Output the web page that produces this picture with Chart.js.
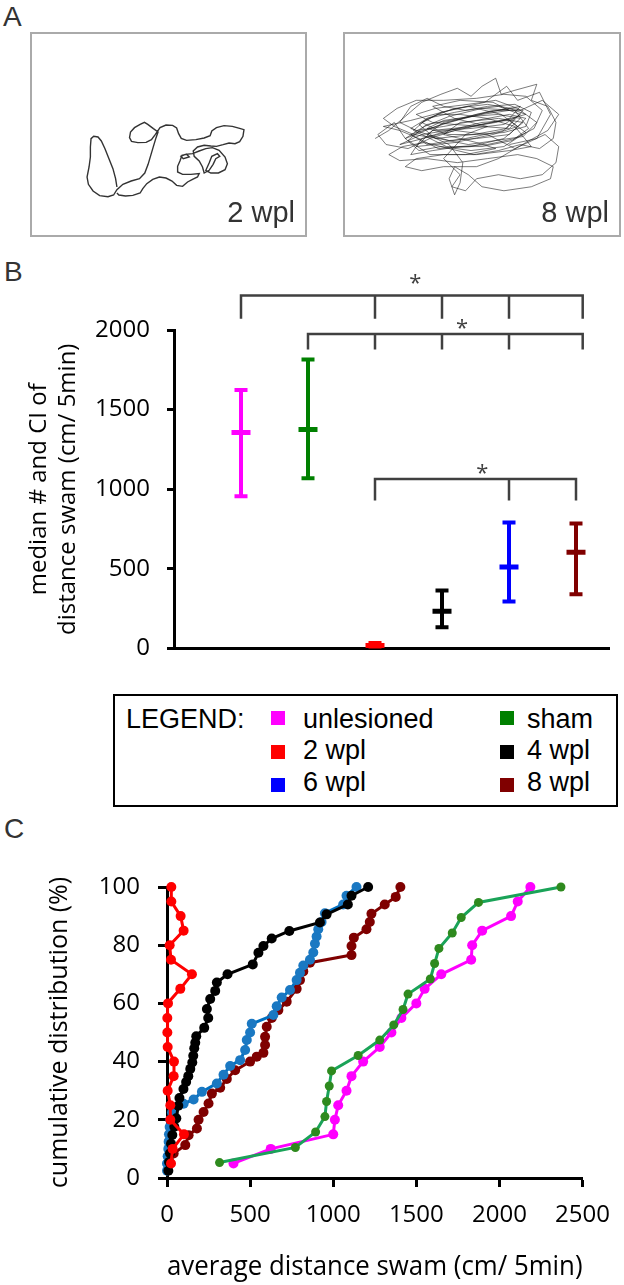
<!DOCTYPE html>
<html>
<head>
<meta charset="utf-8">
<title>distance swam</title>
<script src="https://cdn.jsdelivr.net/npm/chart.js@4.4.1/dist/chart.umd.min.js"></script>
<style>
  body { margin: 0; width: 624px; height: 1285px; position: relative; background: #fff; overflow: hidden;
         font-family: "Liberation Sans", Arial, sans-serif; }
  .panel { position: absolute; font-size: 28px; line-height: 1; color: #333; }
  .box { position: absolute; top: 32px; width: 277px; height: 205px; border: 2px solid #aaa; box-sizing: border-box; }
  .box canvas { position: absolute; left: 0; top: 0; }
  .wpl { position: absolute; right: 10px; bottom: 8px; font-size: 29px; line-height: 1; color: #333; }
  #chartB, #chartC { position: absolute; left: 0; }
  #legend { position: absolute; left: 113px; top: 694px; width: 505px; height: 113px; border: 2px solid #000;
            box-sizing: border-box; font-size: 27px; line-height: 1; color: #000; }
  #legend span { position: absolute; white-space: nowrap; }
  #legend i { position: absolute; width: 14px; height: 14px; }
</style>
</head>
<body>
<div class="panel" style="left:3px;top:3px">A</div>
<div class="box" style="left:30px"><canvas id="track2" width="273" height="201"></canvas><div class="wpl">2 wpl</div></div>
<div class="box" style="left:343px;width:278px"><canvas id="track8" width="274" height="201"></canvas><div class="wpl">8 wpl</div></div>
<div class="panel" style="left:4px;top:258px">B</div>
<canvas id="chartB" width="624" height="440" style="top:240px"></canvas>
<div id="legend"><span style="left:11px;top:10px">LEGEND:</span></div>
<div class="panel" style="left:4px;top:815px">C</div>
<canvas id="chartC" width="624" height="435" style="top:850px"></canvas>
<script>
// ---- panel A: swim tracks ----
// 2 wpl track, picture units inside the box
var track2 = [
  [262,470],[258,445],[250,415],[238,385],[226,355],[215,332],[205,320],[192,318],[184,325],[182,350],[182,380],
  [178,410],[172,440],[176,462],[190,482],[210,496],[235,499],[252,494],[262,478],[280,462],[305,452],[330,445],
  [346,428],[356,402],[364,375],[372,348],[380,322],[386,305],[372,295],[355,282],[345,276],[332,282],[315,292],
  [303,305],[300,322],[306,333],[325,337],[350,336],[366,328],[378,312],[392,292],[410,284],[430,285],[442,293],
  [448,310],[456,324],[472,330],[500,328],[525,323],[543,316],[548,302],[562,292],[585,286],[610,288],[632,294],
  [645,298],[642,318],[632,334],[618,340],[600,338],[582,343],[562,348],[545,347],[525,345],[505,350],[492,362],
  [495,378],[510,392],[520,410],[525,428],[540,420],[552,402],[560,385],[572,378],[565,370],[548,378],[540,398],
  [530,420],[545,428],[568,428],[588,418],[595,400],[588,380],[570,360],[550,352],[530,355],[510,362],[490,370],
  [468,372],[455,378],[462,385],[480,380],[472,372],[458,375],[452,392],[445,408],[445,425],[460,432],[485,432],
  [510,430],[505,440],[490,447],[475,455],[460,468],[442,465],[428,452],[410,443],[390,440],[370,447],[352,460],
  [340,475],[332,488],[310,495],[288,497],[268,494],[262,488]
];
// 8 wpl track, percent of the box
var track8 = [
  [11,52],[16,48],[22,41],[28,34],[35,30],[41,27],[46,31],[50,26],[55,22],[57,30],[62,28],[70,25],[68,33],[74,36],
  [77,44],[76,52],[71,57],[64,55],[56,58],[47,60],[38,57],[29,54],[21,56],[16,60],[20,63],[30,62],[41,64],[52,62],
  [63,60],[70,62],[76,66],[75,72],[68,76],[58,78],[50,76],[45,70],[40,66],[38,72],[40,80],[42,74],[43,64],[38,55],
  [30,50],[24,47],[30,42],[40,39],[52,36],[62,35],[68,39],[66,46],[58,49],[48,50],[38,50],[30,47],[36,43],[46,41],
  [56,40],[64,42],[60,47],[50,46],[40,45],[32,44],[26,40],[33,37],[45,35],[55,33],[63,37],[70,44],[65,51],[55,53],
  [45,55],[34,52],[25,50],[18,46],[14,42],[19,37],[26,33],[36,33],[48,32],[58,30],[66,31],[72,38],[69,47],[62,52],
  [52,55],[42,56],[32,58],[24,60],[28,52],[38,48],[50,44],[60,43],[66,49],[58,56],[46,58],[35,56],[27,58],[22,52],
  [30,45],[42,42],[54,38],[64,38],[72,33],[78,40],[74,48],[66,54],[56,62],[48,66],[36,66],[28,68],[22,66],[26,62],
  [36,60],[48,60],[60,58],[68,56],[62,46],[52,42],[42,40],[34,40],[28,44],[34,48],[46,47],[58,45],[64,40],[56,36],
  [44,38],[36,36],[30,32],[24,36],[20,44],[26,48],[36,46],[48,43],[60,40],[66,42],[60,50],[48,52],[38,53],[30,50],
  [36,44],[50,40],[60,38],[54,34],[42,33],[32,36],[40,42],[52,46],[44,50],[36,62],[42,70],[39,76],[44,78],[48,72],
  [56,70],[64,72],[72,70],[77,64],[78,56],[73,50],[62,57],[52,50],[40,48],[31,52],[23,57],[15,55],[12,50],[18,44],
  [22,52],[35,45],[48,40],[60,37],[66,40],[55,44],[42,47],[28,50],[20,55],[34,50],[50,45],[62,42],[58,48],[44,52],
  [30,55],[24,50],[38,44],[52,39],[64,36],[60,42],[46,46],[32,48],[26,56],[40,54],[54,50],[63,46],[57,40],[45,36],
  [35,39],[27,45],[33,52],[47,50],[59,47],[65,38],[52,35],[40,37],[30,42],[25,48],[37,56],[50,56],[61,53],[67,47],
  [62,38],[50,37],[38,41],[29,46],[23,53],[31,60],[44,60],[55,57],[48,54],[36,50],[42,44],[56,42],[65,44],[58,52],
  [46,56],[34,57],[27,52],[20,48],[14,46],[24,43],[38,38],[51,34],[59,26],[63,33],[71,29],[75,40],[70,52],[60,55]
];

// ---- panel B: median and CI ----
var groupsB = ['unlesioned', 'sham', '2 wpl', '4 wpl', '6 wpl', '8 wpl'];
var coloursB = ['#ff00ff', '#008000', '#ff0000', '#000000', '#0000ff', '#800000'];
var medianB = [1356, 1376, 20, 235, 512, 605];
var lowB = [957, 1070, 8, 134, 296, 341];
var highB = [1623, 1815, 35, 364, 792, 786];
var yTicksB = [0, 500, 1000, 1500, 2000];
// significance brackets (group positions, level)
var brFrom = [1, 2, 3];
var brTo = [6.1, 6.1, 6];
var brTicks = [[3, 4, 5], [3, 4, 5], [5]];
var brLevel = [2216, 1975, 1064];
var brDrop = [145, 98, 135];
var starX = [3.6, 4.3, 4.6];
var starY = [2327, 2043, 1136];

// ---- panel C: cumulative distributions ----
var unlesionedX = [400, 624, 1000, 1010, 1030, 1080, 1110, 1180, 1280, 1350, 1410, 1500, 1550, 1650, 1830, 1836, 1896, 2070, 2110, 2186];
var unlesionedY = [5, 10, 15, 20, 25, 30, 35, 40, 45, 50, 55, 60, 65, 70, 75, 80, 85, 90, 95, 100];
var shamX = [316, 772, 894, 950, 960, 976, 990, 1150, 1280, 1364, 1420, 1450, 1584, 1610, 1636, 1716, 1770, 1874, 2370];
var shamY = [5.3, 10.5, 15.8, 21.1, 26.3, 31.6, 36.8, 42.1, 47.4, 52.6, 57.9, 63.2, 68.4, 73.7, 78.9, 84.2, 89.5, 94.7, 100];
var wpl2X = [24, 34, 102, 20, 20, 4, 40, 42, 4, 2, 2, 6, 80, 150, 24, 16, 100, 82, 26, 26];
var wpl2Y = [5, 10, 15, 20, 25, 30, 35, 40, 45, 50, 55, 60, 65, 70, 75, 80, 85, 90, 95, 100];
var wpl4X = [8, 12, 18, 24, 32, 44, 56, 68, 75, 99, 115, 128, 140, 152, 158, 164, 170, 176, 224, 248, 240, 260, 290, 300,
             364, 516, 550, 580, 630, 736, 920, 960, 1088, 1110, 1210];
var wpl4Y = [2.5, 5.5, 8.5, 11.8, 14.8, 17.6, 20.5, 24.8, 27.5, 30.6, 33, 35, 37.5, 39.7, 42, 44.6, 46.5, 48.7, 51.6, 55, 58.1,
             61.5, 64.3, 67.2, 70, 73.4, 77.4, 79.7, 82.3, 84.9, 87.8, 90.6, 94, 97, 100];
var wpl6X = [0, 0, 4, 8, 10, 12, 16, 20, 30, 100, 160, 210, 300, 340, 380, 440, 470, 480, 500, 510, 640, 660, 690, 740, 780,
             800, 820, 860, 880, 890, 900, 910, 930, 950, 1060, 1080, 1140];
var wpl6Y = [2.5, 5, 7.5, 10, 12.5, 15, 17.5, 20, 22.5, 25.5, 27, 29.6, 32.5, 35.5, 38.5, 40.5, 44, 47.4, 50, 53, 56, 59, 62,
             64.6, 68, 70.5, 73, 75, 77.5, 80.5, 83, 85.5, 88, 91, 94, 97, 100];
var wpl8X = [20, 40, 110, 130, 180, 190, 220, 250, 270, 320, 360, 410, 500, 540, 580, 590, 590, 600, 630, 670, 720, 780, 800,
             820, 860, 1110, 1110, 1124, 1200, 1220, 1230, 1310, 1376, 1404];
var wpl8Y = [5, 8.4, 11.3, 14.7, 17, 20, 22.7, 25.6, 29, 31, 34, 37, 40, 41.7, 43, 45.7, 48.5, 52, 55, 57.7, 60.6, 65, 68, 71,
             74, 76.6, 79.7, 82.6, 85.5, 88, 90.8, 94, 96.6, 100];
var xTicksC = [0, 500, 1000, 1500, 2000, 2500];
var yTicksC = [0, 20, 40, 60, 80, 100];

Chart.defaults.animation = false;
Chart.defaults.responsive = false;
Chart.defaults.events = [];
Chart.defaults.plugins.legend.display = false;
Chart.defaults.plugins.tooltip.enabled = false;
Chart.defaults.font.family = "'Open Sans', sans-serif";
Chart.defaults.color = '#000';

function pairs(list) {
    return list.map(function (p) { return {x: p[0], y: p[1]}; });
}
function plain(v) {
    return String(v);
}

function trackChart(id, pts, xmin, xmax, ymin, ymax, colour, width) {
    return new Chart(document.getElementById(id), {
        type: 'scatter',
        data: {datasets: [{data: pairs(pts), showLine: true, borderColor: colour, borderWidth: width, pointRadius: 0, tension: 0}]},
        options: {
            layout: {padding: 0},
            scales: {
                x: {display: false, min: xmin, max: xmax},
                y: {display: false, min: ymin, max: ymax, reverse: true}
            }
        }
    });
}
trackChart('track2', track2, 6, 829, 11, 614, '#333', 1.4);
trackChart('track8', track8, 0, 100, 0, 100, 'rgba(20,20,20,0.7)', 0.8);

// legend
var legend = document.getElementById('legend');
groupsB.forEach(function (g, i) {
    var col = i % 2, row = Math.floor(i / 2);
    var sq = document.createElement('i');
    sq.style.left = [156, 385][col] + 'px';
    sq.style.top = [15, 49, 82][row] + 'px';
    sq.style.background = coloursB[i];
    legend.appendChild(sq);
    var t = document.createElement('span');
    t.textContent = g;
    t.style.left = [188, 412][col] + 'px';
    t.style.top = [10, 41, 73][row] + 'px';
    legend.appendChild(t);
});

// panel B
var dsB = [];
groupsB.forEach(function (g, i) {
    dsB.push({
        label: g,
        data: [{x: i + 1, y: lowB[i]}, {x: i + 1, y: highB[i]}],
        showLine: true,
        borderColor: coloursB[i],
        borderWidth: 4,
        pointStyle: 'line',
        pointRadius: 6.5,
        pointBorderWidth: 4,
        pointBorderColor: coloursB[i]
    });
});
dsB.push({
    label: 'median',
    data: medianB.map(function (m, i) { return {x: i + 1, y: m}; }),
    showLine: false,
    pointStyle: 'line',
    pointRadius: 9.5,
    pointBorderWidth: 5,
    pointBorderColor: coloursB
});
brLevel.forEach(function (lvl, i) {
    var bot = lvl - brDrop[i];
    var pts = [{x: brFrom[i], y: bot}, {x: brFrom[i], y: lvl}, {x: brTo[i], y: lvl}, {x: brTo[i], y: bot}];
    brTicks[i].forEach(function (t) {
        pts.push({x: t, y: null}, {x: t, y: lvl}, {x: t, y: bot});
    });
    dsB.push({label: 'bracket' + i, data: pts, showLine: true, spanGaps: false, borderColor: '#404040',
              borderWidth: 2.5, pointRadius: 0, clip: false});
});

var starPlugin = {
    id: 'stars',
    afterDatasetsDraw: function (chart) {
        var ctx = chart.ctx, xs = chart.scales.x, ys = chart.scales.y;
        ctx.save();
        ctx.fillStyle = '#404040';
        ctx.font = "22px 'Open Sans'";
        ctx.textAlign = 'center';
        ctx.textBaseline = 'alphabetic';
        starX.forEach(function (sx, i) {
            ctx.fillText('*', xs.getPixelForValue(sx), ys.getPixelForValue(starY[i]) + 12);
        });
        ctx.restore();
    }
};

new Chart(document.getElementById('chartB'), {
    type: 'scatter',
    data: {datasets: dsB},
    plugins: [starPlugin],
    options: {
        layout: {padding: {top: 90, right: 10, bottom: 26, left: 0}},
        scales: {
            x: {
                type: 'linear', min: 0, max: 6.5,
                ticks: {display: false},
                grid: {drawOnChartArea: false, drawTicks: false},
                border: {display: true, color: '#000', width: 3},
                afterFit: function (s) { s.height = 0; }
            },
            y: {
                min: 0, max: 2000,
                afterBuildTicks: function (s) { s.ticks = yTicksB.map(function (v) { return {value: v}; }); },
                ticks: {color: '#000', font: {size: 24}, padding: 17, callback: plain},
                grid: {drawOnChartArea: false, tickLength: 7, tickWidth: 3, tickColor: '#000'},
                border: {color: '#000', width: 3},
                title: {display: true, text: ['median # and CI of', 'distance swam (cm/ 5min)'], color: '#000',
                        font: {size: 24}, padding: {top: 25, bottom: 0}},
                afterFit: function (s) { s.width = 174; }
            }
        }
    }
});

// panel C
function cumSeries(label, xs, ys, line, dot, r) {
    return {
        label: label,
        data: xs.map(function (x, i) { return {x: x, y: ys[i]}; }),
        showLine: true,
        borderColor: line,
        borderWidth: 3,
        pointRadius: r,
        pointBackgroundColor: dot,
        pointBorderColor: dot,
        pointBorderWidth: 0,
        clip: false
    };
}

new Chart(document.getElementById('chartC'), {
    type: 'scatter',
    data: {
        datasets: [
            cumSeries('2 wpl', wpl2X, wpl2Y, '#ff0000', '#ff0000', 5),
            cumSeries('4 wpl', wpl4X, wpl4Y, '#000000', '#000000', 5),
            cumSeries('6 wpl', wpl6X, wpl6Y, '#0070c0', '#1a78c2', 5),
            cumSeries('8 wpl', wpl8X, wpl8Y, '#7f0000', '#7f0000', 5),
            cumSeries('sham', shamX, shamY, '#1aa358', '#2e8a1e', 4.5),
            cumSeries('unlesioned', unlesionedX, unlesionedY, '#ff00ff', '#ff00ff', 5)
        ]
    },
    options: {
        layout: {padding: {top: 37, right: 41, bottom: 0, left: 0}},
        scales: {
            x: {
                type: 'linear', min: 0, max: 2500,
                afterBuildTicks: function (s) { s.ticks = xTicksC.map(function (v) { return {value: v}; }); },
                ticks: {color: '#000', font: {size: 24}, padding: 14, callback: plain},
                grid: {drawOnChartArea: false, tickLength: 9, tickWidth: 3, tickColor: '#000'},
                border: {color: '#000', width: 3},
                title: {display: true, text: 'average distance swam (cm/ 5min)', color: '#000',
                        font: {size: 26.5}, padding: {top: 0, bottom: 2}},
                afterFit: function (s) { s.height = 107; }
            },
            y: {
                min: 0, max: 100,
                afterBuildTicks: function (s) { s.ticks = yTicksC.map(function (v) { return {value: v}; }); },
                ticks: {color: '#000', font: {size: 24}, padding: 18, callback: plain},
                grid: {drawOnChartArea: false, tickLength: 9, tickWidth: 3, tickColor: '#000'},
                border: {color: '#000', width: 3},
                title: {display: true, text: 'cumulative distribution (%)', color: '#000',
                        font: {size: 25}, padding: {top: 45, bottom: 0}},
                afterFit: function (s) { s.width = 167; }
            }
        }
    }
});
</script>
</body>
</html>
